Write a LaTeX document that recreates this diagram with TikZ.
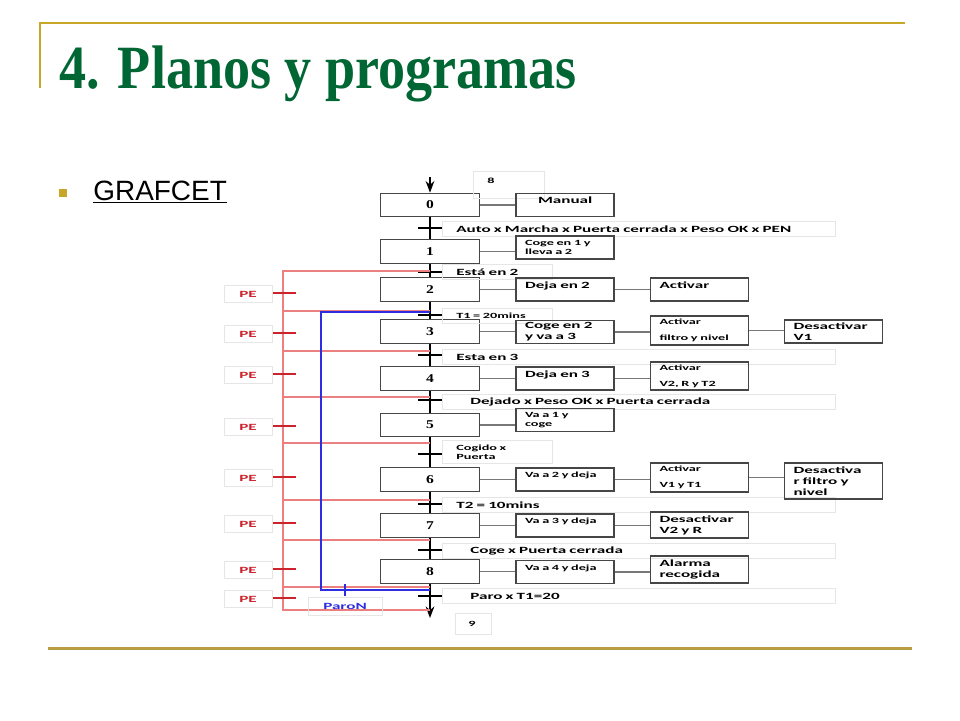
\documentclass[tikz,border=0pt]{standalone}
\usepackage{fontspec}
\usetikzlibrary{arrows.meta}
\setmainfont{Liberation Serif}
\newfontfamily\titfam[FakeStretch=0.88]{Liberation Serif}
\newfontfamily\arifam{Liberation Sans}
\newfontfamily\calfam[FakeStretch=1.8]{Carlito}
\newfontfamily\numfam[FakeStretch=1.3]{Liberation Serif}
\newcommand{\titlefont}{\titfam\bfseries\fontsize{35}{40}\selectfont}
\newcommand{\lblfont}{\calfam\bfseries\fontsize{5.4}{6.2}\selectfont}
\newcommand{\smlfont}{\calfam\bfseries\fontsize{4.5}{5.4}\selectfont}
\newcommand{\numfont}{\numfam\bfseries\fontsize{6.8}{8}\selectfont}
\definecolor{verde}{RGB}{0,102,51}
\definecolor{oro}{RGB}{200,166,40}
\definecolor{oroBajo}{RGB}{186,156,66}
\definecolor{gris}{RGB}{70,70,70}
\definecolor{conector}{RGB}{120,120,120}
\definecolor{rojoClaro}{RGB}{236,128,128}
\definecolor{rojoPE}{RGB}{205,35,45}
\definecolor{azulParo}{RGB}{45,45,225}
\definecolor{marco}{RGB}{230,230,230}
\begin{document}
\begin{tikzpicture}
        [x=0.02cm, y=-0.02cm, >=Stealth,
        etapa/.style={draw=gris, line width=0.7pt, minimum width=1.98cm, minimum height=0.47cm, inner sep=0pt, font=\numfont},
        accion/.style={draw=gris, line width=0.6pt, minimum height=0.46cm, text width=1.6cm, inner xsep=0.18cm, inner ysep=0pt, align=left, font=\lblfont},
        arriba/.style={text depth=0.18cm},
        cond/.style={draw=marco, anchor=west, inner xsep=0.28cm, inner ysep=0pt, minimum height=0.29cm, align=left, font=\lblfont},
        condW/.style={cond, text width=7.3cm},
        condN/.style={cond, text width=1.64cm},
        pe/.style={draw=marco, minimum width=0.96cm, minimum height=0.34cm, inner sep=0pt, text=rojoPE, font=\lblfont},
        conn/.style={draw=conector, line width=0.6pt},
        barra/.style={line width=0.85pt},
        rojo/.style={draw=rojoClaro, line width=0.6pt},
        barraPE/.style={draw=rojoPE, line width=0.85pt},
        azul/.style={draw=azulParo, line width=0.6pt}]
        \useasboundingbox (0,0) rectangle (960,720);

        % cabecera
        \draw[oro, line width=1.1pt] (40,88) -- (40,23) -- (905,23);
        \node[anchor=base west, inner sep=0pt, text=verde, font=\titlefont] (titulo) at (59,88) {4. Planos y programas};
        \fill[oro] (59,189) rectangle (67,197);
        \node[anchor=base west, inner sep=0pt, font=\arifam\fontsize{15.9}{18}\selectfont] (grafcet) at (93,200) {\underline{GRAFCET}};
        \draw[oroBajo, line width=1.7pt] (48,648) -- (912,648);

        % etapas
        \node[etapa] (s0) at (430,205) {0};
        \node[etapa] (s1) at (430,251.5) {1};
        \node[etapa] (s2) at (430,289.5) {2};
        \node[etapa] (s3) at (430,331.5) {3};
        \node[etapa] (s4) at (430,378.5) {4};
        \node[etapa] (s5) at (430,425) {5};
        \node[etapa] (s6) at (430,479.5) {6};
        \node[etapa] (s7) at (430,525.5) {7};
        \node[etapa] (s8) at (430,571.5) {8};
        \coordinate (ini) at (430,177);
        \coordinate (fin) at (430,618);

        \draw[->, line width=0.8pt] (ini) -- (s0);
        \draw[line width=0.8pt] (s0) -- (s1) (s1) -- (s2) (s2) -- (s3) (s3) -- (s4) (s4) -- (s5) (s5) -- (s6) (s6) -- (s7) (s7) -- (s8);
        \draw[->, line width=0.8pt] (s8) -- (fin);

        % receptividades
        \draw[barra] (418,228) -- (443,228);
        \draw[barra] (418,272) -- (443,272);
        \draw[barra] (418,315) -- (443,315);
        \draw[barra] (418,355) -- (443,355);
        \draw[barra] (418,400) -- (443,400);
        \draw[barra] (418,454) -- (443,454);
        \draw[barra] (418,504) -- (443,504);
        \draw[barra] (418,550) -- (443,550);
        \draw[barra] (418,596) -- (443,596);

        \node[condW] (c1) at (442,229) {Auto x Marcha x Puerta cerrada x Peso OK x PEN};
        \node[condN] (c2) at (442,272) {Está en 2};
        \node[condN, font=\smlfont] (c3) at (442,316) {T1 = 20mins};
        \node[condW] (c4) at (442,357) {Esta en 3};
        \node[condW] (c5) at (442,402) {\hspace*{0.28cm}Dejado x Peso OK x Puerta cerrada};
        \node[condN, font=\smlfont, minimum height=0.46cm] (c6) at (442,452) {Cogido x\\Puerta};
        \node[condW] (c7) at (442,505) {T2 = 10mins};
        \node[condW] (c8) at (442,551) {\hspace*{0.28cm}Coge x Puerta cerrada};
        \node[condW] (c9) at (442,596) {\hspace*{0.28cm}Paro x T1=20};
        \node[cond, arriba, text width=0.86cm, minimum height=0.54cm, font=\smlfont] (sig8) at (473,185) {8};
        \node[cond, text width=0.2cm, inner xsep=0.26cm, minimum height=0.42cm, font=\smlfont] (sig9) at (455,624) {9};

        % acciones
        \node[accion, arriba] (m0) at (565,205) {\hspace*{0.26cm}Manual};
        \node[accion, font=\smlfont] (m1) at (565,247.5) {Coge en 1 y\\lleva a 2};
        \node[accion, arriba] (m2) at (565,289.5) {Deja en 2};
        \node[accion] (m3) at (565,332) {Coge en 2\\y va a 3};
        \node[accion, arriba] (m4) at (565,378.5) {Deja en 3};
        \node[accion, font=\smlfont] (m5) at (565,420) {Va a 1 y\\coge};
        \node[accion, arriba, font=\smlfont] (m6) at (565,479.5) {Va a 2 y deja};
        \node[accion, arriba, font=\smlfont] (m7) at (565,525.5) {Va a 3 y deja};
        \node[accion, arriba, font=\smlfont] (m8) at (565,572) {Va a 4 y deja};

        \node[accion, arriba] (a2) at (699.5,289.5) {Activar};
        \node[accion, font=\smlfont, minimum height=0.58cm] (a3) at (699.5,330.5) {Activar\\[3.6pt]filtro y nivel};
        \node[accion, font=\smlfont, minimum height=0.56cm] (a4) at (699.5,376) {Activar\\[3.6pt]V2, R y T2};
        \node[accion, font=\smlfont, minimum height=0.58cm] (a6) at (699.5,477.5) {Activar\\[3.6pt]V1 y T1};
        \node[accion, minimum height=0.52cm] (a7) at (699.5,525) {Desactivar\\V2 y R};
        \node[accion, minimum height=0.54cm] (a8) at (699.5,569.5) {Alarma\\recogida};

        \node[accion] (d3) at (833.5,331.5) {Desactivar\\V1};
        \node[accion, minimum height=0.72cm] (d6) at (833.5,481) {Desactiva\\r filtro y\\nivel};

        \draw[conn] (s0.east) -- (s0.east -| m0.west);
        \draw[conn] (s1.east) -- (s1.east -| m1.west);
        \draw[conn] (s2.east) -- (s2.east -| m2.west);
        \draw[conn] (s3.east) -- (s3.east -| m3.west);
        \draw[conn] (s4.east) -- (s4.east -| m4.west);
        \draw[conn] (s5.east) -- (s5.east -| m5.west);
        \draw[conn] (s6.east) -- (s6.east -| m6.west);
        \draw[conn] (s7.east) -- (s7.east -| m7.west);
        \draw[conn] (s8.east) -- (s8.east -| m8.west);
        \draw[conn] (m2.east) -- (m2.east -| a2.west);
        \draw[conn] (m3.east) -- (m3.east -| a3.west);
        \draw[conn] (m4.east) -- (m4.east -| a4.west);
        \draw[conn] (m6.east) -- (m6.east -| a6.west);
        \draw[conn] (m7.east) -- (m7.east -| a7.west);
        \draw[conn] (m8.east) -- (m8.east -| a8.west);
        \draw[conn] (a3.east) -- (a3.east -| d3.west);
        \draw[conn] (a6.east) -- (a6.east -| d6.west);

        % parada de emergencia
        \draw[rojo] (430,271) -- (283,271) -- (283,610) -- (430,610);
        \draw[rojo] (283,311) -- (430,311);
        \draw[rojo] (283,351) -- (430,351);
        \draw[rojo] (283,397) -- (430,397);
        \draw[rojo] (283,443) -- (430,443);
        \draw[rojo] (283,500) -- (430,500);
        \draw[rojo] (283,540) -- (430,540);
        \draw[rojo] (283,587) -- (430,587);

        \draw[barraPE] (272,293) -- (296,293);
        \draw[barraPE] (272,333) -- (296,333);
        \draw[barraPE] (272,374) -- (296,374);
        \draw[barraPE] (272,426) -- (296,426);
        \draw[barraPE] (272,477) -- (296,477);
        \draw[barraPE] (272,523) -- (296,523);
        \draw[barraPE] (272,569) -- (296,569);
        \draw[barraPE] (272,598) -- (296,598);
        \node[pe] (pe1) at (248,294) {PE};
        \node[pe] (pe2) at (248,334) {PE};
        \node[pe] (pe3) at (248,375) {PE};
        \node[pe] (pe4) at (248,427) {PE};
        \node[pe] (pe5) at (248,478) {PE};
        \node[pe] (pe6) at (248,524) {PE};
        \node[pe] (pe7) at (248,570) {PE};
        \node[pe] (pe8) at (248,599) {PE};

        % paro normal
        \draw[azul] (430,312) -- (321,312) -- (321,590) -- (430,590);
        \draw[azul, line width=1.3pt] (345,584) -- (345,596);
        \node[pe, minimum width=1.48cm, minimum height=0.36cm, text=azulParo] (paro) at (345,606) {ParoN};

\end{tikzpicture}
\end{document}
